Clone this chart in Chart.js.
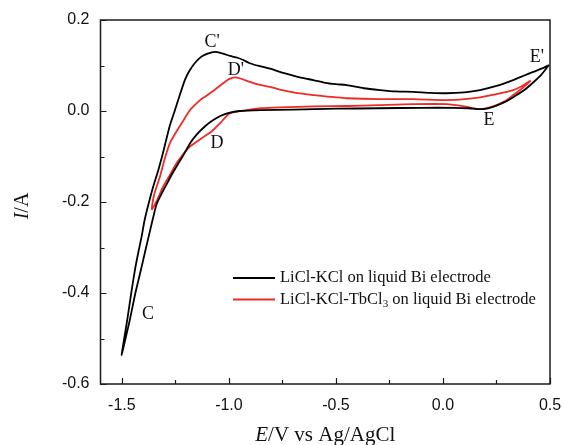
<!DOCTYPE html>
<html>
<head>
<meta charset="utf-8">
<script src="https://cdn.jsdelivr.net/npm/chart.js@4/dist/chart.umd.min.js"></script>
<style>
  html, body { margin: 0; padding: 0; background: #fff; }
  canvas { display: block; }
</style>
</head>
<body>
<canvas id="cv" width="564" height="445"></canvas>
<script>
// Cyclic voltammograms: potential E (V vs Ag/AgCl) and current I (A)
const bareE = [0.495, 0.46, 0.42, 0.38, 0.33, 0.29, 0.25, 0.21, 0.17, 0.12, 0.05, -0.10, -0.30, -0.50, -0.70, -0.85, -0.95, -1.00, -1.04, -1.073, -1.11, -1.151, -1.18, -1.214, -1.24, -1.265, -1.29, -1.315, -1.338, -1.356, -1.374, -1.392, -1.411, -1.437, -1.463, -1.483, -1.501,
  -1.49, -1.475, -1.457, -1.439, -1.423, -1.408, -1.394, -1.376, -1.355, -1.33, -1.307, -1.276, -1.255, -1.237, -1.206, -1.185, -1.16, -1.13, -1.10, -1.08, -1.065, -1.04, -1.02, -0.995, -0.96, -0.933, -0.902, -0.86, -0.808, -0.762, -0.70, -0.65, -0.606, -0.55, -0.50, -0.45, -0.37, -0.294, -0.22, -0.139, -0.06, 0.017, 0.10, 0.173, 0.25, 0.328, 0.38, 0.422, 0.46, 0.495];
const bareI = [0.101, 0.080, 0.062, 0.046, 0.031, 0.020, 0.012, 0.006, 0.004, 0.006, 0.007, 0.007, 0.006, 0.005, 0.003, 0.002, 0.000, -0.004, -0.011, -0.020, -0.033, -0.052, -0.070, -0.098, -0.118, -0.138, -0.160, -0.182, -0.205, -0.238, -0.274, -0.310, -0.349, -0.400, -0.459, -0.500, -0.536,
  -0.502, -0.459, -0.402, -0.349, -0.310, -0.276, -0.240, -0.205, -0.168, -0.130, -0.090, -0.032, -0.002, 0.024, 0.068, 0.088, 0.105, 0.119, 0.126, 0.129, 0.130, 0.128, 0.125, 0.121, 0.117, 0.112, 0.105, 0.099, 0.093, 0.086, 0.078, 0.072, 0.068, 0.062, 0.059, 0.057, 0.050, 0.046, 0.043, 0.042, 0.040, 0.039, 0.041, 0.046, 0.055, 0.068, 0.078, 0.086, 0.093, 0.101];

const tbE = [0.41, 0.37, 0.328, 0.29, 0.25, 0.21, 0.17, 0.14, 0.10, 0.017, -0.139, -0.30, -0.45, -0.60, -0.762, -0.85, -0.917, -0.995, -1.042, -1.081, -1.128, -1.182, -1.214, -1.245, -1.275, -1.307, -1.335, -1.36,
  -1.35, -1.322, -1.30, -1.276, -1.245, -1.221, -1.182, -1.16, -1.135, -1.11, -1.089, -1.06, -1.027, -1.0, -0.972, -0.95, -0.902, -0.86, -0.808, -0.762, -0.70, -0.606, -0.50, -0.45, -0.30, -0.139, 0.017, 0.10, 0.173, 0.25, 0.328, 0.37, 0.41];
const tbI = [0.067, 0.050, 0.035, 0.022, 0.013, 0.007, 0.004, 0.006, 0.010, 0.015, 0.015, 0.013, 0.011, 0.010, 0.008, 0.006, 0.002, -0.005, -0.027, -0.045, -0.060, -0.078, -0.095, -0.115, -0.140, -0.166, -0.195, -0.216,
  -0.185, -0.144, -0.105, -0.071, -0.045, -0.027, 0.002, 0.013, 0.024, 0.032, 0.039, 0.049, 0.061, 0.070, 0.074, 0.072, 0.064, 0.058, 0.053, 0.047, 0.041, 0.035, 0.030, 0.028, 0.026, 0.026, 0.024, 0.026, 0.030, 0.037, 0.046, 0.055, 0.067];

const xTicks = [-1.5, -1.0, -0.5, 0.0, 0.5];
const xMinor = [-1.25, -0.75, -0.25, 0.25];
const yTicks = [-0.6, -0.4, -0.2, 0.0, 0.2];
const yMinor = [-0.5, -0.3, -0.1, 0.1];

const seriesNames = ['LiCl-KCl on liquid Bi electrode', 'LiCl-KCl-TbCl'];
const seriesColors = ['#000000', '#ee2b25'];

// Peak letters, anchored in data space (E, I)
const peakText = ['C', "C'", 'D', "D'", 'E', "E'"];
const peakE = [-1.378, -1.079, -1.056, -0.967, 0.215, 0.439];
const peakI = [-0.446, 0.152, -0.070, 0.090, -0.020, 0.119];

const toPoints = (xs, ys) => xs.map((x, i) => ({ x: x, y: ys[i] }));

const SERIF = '"Liberation Serif", "Times New Roman", serif';
const SANS = '"Liberation Sans", Arial, sans-serif';

const decor = {
  id: 'decor',
  afterDraw(chart) {
    const ctx = chart.ctx;
    const a = chart.chartArea;
    const xs = chart.scales.x, ys = chart.scales.y;
    ctx.save();
    // frame
    ctx.strokeStyle = '#1a1a1a';
    ctx.lineWidth = 1.5;
    ctx.strokeRect(a.left, a.top, a.right - a.left, a.bottom - a.top);
    // inward ticks
    ctx.lineWidth = 1.2;
    ctx.beginPath();
    xTicks.forEach(v => { const p = Math.round(xs.getPixelForValue(v)) + 0.5; ctx.moveTo(p, a.bottom); ctx.lineTo(p, a.bottom - 6); });
    xMinor.forEach(v => { const p = Math.round(xs.getPixelForValue(v)) + 0.5; ctx.moveTo(p, a.bottom); ctx.lineTo(p, a.bottom - 4); });
    yTicks.forEach(v => { const p = Math.round(ys.getPixelForValue(v)) + 0.5; ctx.moveTo(a.left, p); ctx.lineTo(a.left + 6, p); });
    yMinor.forEach(v => { const p = Math.round(ys.getPixelForValue(v)) + 0.5; ctx.moveTo(a.left, p); ctx.lineTo(a.left + 4, p); });
    ctx.stroke();

    ctx.fillStyle = '#111';
    ctx.textBaseline = 'alphabetic';
    // x title: E/V vs Ag/AgCl
    const t1 = 'E';
    const rest = '/V vs Ag/AgCl';
    ctx.font = 'italic 21px ' + SERIF;
    const w1 = ctx.measureText(t1).width;
    ctx.font = '21px ' + SERIF;
    const w2 = ctx.measureText(rest).width;
    const x0 = (a.left + a.right) / 2 - (w1 + w2) / 2;
    const yb = 441;
    ctx.textAlign = 'left';
    ctx.font = 'italic 21px ' + SERIF;
    ctx.fillText(t1, x0, yb);
    ctx.font = '21px ' + SERIF;
    ctx.fillText(rest, x0 + w1, yb);

    // y title: I/A
    ctx.save();
    ctx.translate(28, (a.top + a.bottom) / 2 + 4);
    ctx.rotate(-Math.PI / 2);
    ctx.font = 'italic 20px ' + SERIF;
    const wi = ctx.measureText('I').width;
    ctx.font = '20px ' + SERIF;
    const wa = ctx.measureText('/A').width;
    ctx.font = 'italic 20px ' + SERIF;
    ctx.fillText('I', -(wi + wa) / 2, 0);
    ctx.font = '20px ' + SERIF;
    ctx.fillText('/A', -(wi + wa) / 2 + wi, 0);
    ctx.restore();

    // peak letters
    ctx.font = '18px ' + SERIF;
    ctx.textAlign = 'center';
    ctx.textBaseline = 'middle';
    peakText.forEach((t, i) => {
      ctx.fillText(t, xs.getPixelForValue(peakE[i]), ys.getPixelForValue(peakI[i]));
    });

    // legend
    const lx = 233, ly = 278, gap = 21.5;
    ctx.textAlign = 'left';
    ctx.textBaseline = 'middle';
    seriesNames.forEach((name, i) => {
      const y = ly + i * gap;
      ctx.strokeStyle = seriesColors[i];
      ctx.lineWidth = 2;
      ctx.beginPath();
      ctx.moveTo(lx, y); ctx.lineTo(lx + 42, y);
      ctx.stroke();
      ctx.font = '16.5px ' + SERIF;
      ctx.fillStyle = '#111';
      ctx.fillText(name, lx + 47, y);
      if (i === 1) {
        let cx = lx + 47 + ctx.measureText(name).width;
        ctx.font = '11px ' + SERIF;
        ctx.fillText('3', cx, y + 5);
        cx += ctx.measureText('3').width;
        ctx.font = '16.5px ' + SERIF;
        ctx.fillText(' on liquid Bi electrode', cx, y);
      }
    });
    ctx.restore();
  }
};

new Chart(document.getElementById('cv'), {
  type: 'scatter',
  data: {
    datasets: [
      { label: seriesNames[0], data: toPoints(bareE, bareI), showLine: true, borderColor: seriesColors[0], borderWidth: 1.8, pointRadius: 0, tension: 0.25, fill: false },
      { label: seriesNames[1] + '3', data: toPoints(tbE, tbI), showLine: true, borderColor: seriesColors[1], borderWidth: 1.8, pointRadius: 0, tension: 0.25, fill: false }
    ]
  },
  options: {
    responsive: false,
    animation: false,
    devicePixelRatio: 1,
    layout: { padding: { top: 20, right: 14, left: 0, bottom: 0 } },
    plugins: { legend: { display: false }, tooltip: { enabled: false } },
    scales: {
      x: {
        type: 'linear', min: -1.6, max: 0.5,
        afterBuildTicks: s => { s.ticks = xTicks.map(v => ({ value: v })); },
        afterFit: s => { s.height = 61; s.paddingLeft = 0; s.paddingRight = 0; },
        grid: { display: false, drawTicks: false },
        border: { display: false },
        ticks: { padding: 12, color: '#111', font: { family: SANS, size: 16 }, callback: v => v.toFixed(1), maxRotation: 0 }
      },
      y: {
        type: 'linear', min: -0.6, max: 0.2,
        afterBuildTicks: s => { s.ticks = yTicks.map(v => ({ value: v })); },
        afterFit: s => { s.width = 100.5; s.paddingTop = 0; s.paddingBottom = 0; },
        grid: { display: false, drawTicks: false },
        border: { display: false },
        ticks: { padding: 11, color: '#111', font: { family: SANS, size: 16 }, callback: v => v.toFixed(1) }
      }
    }
  },
  plugins: [decor]
});
</script>
</body>
</html>
